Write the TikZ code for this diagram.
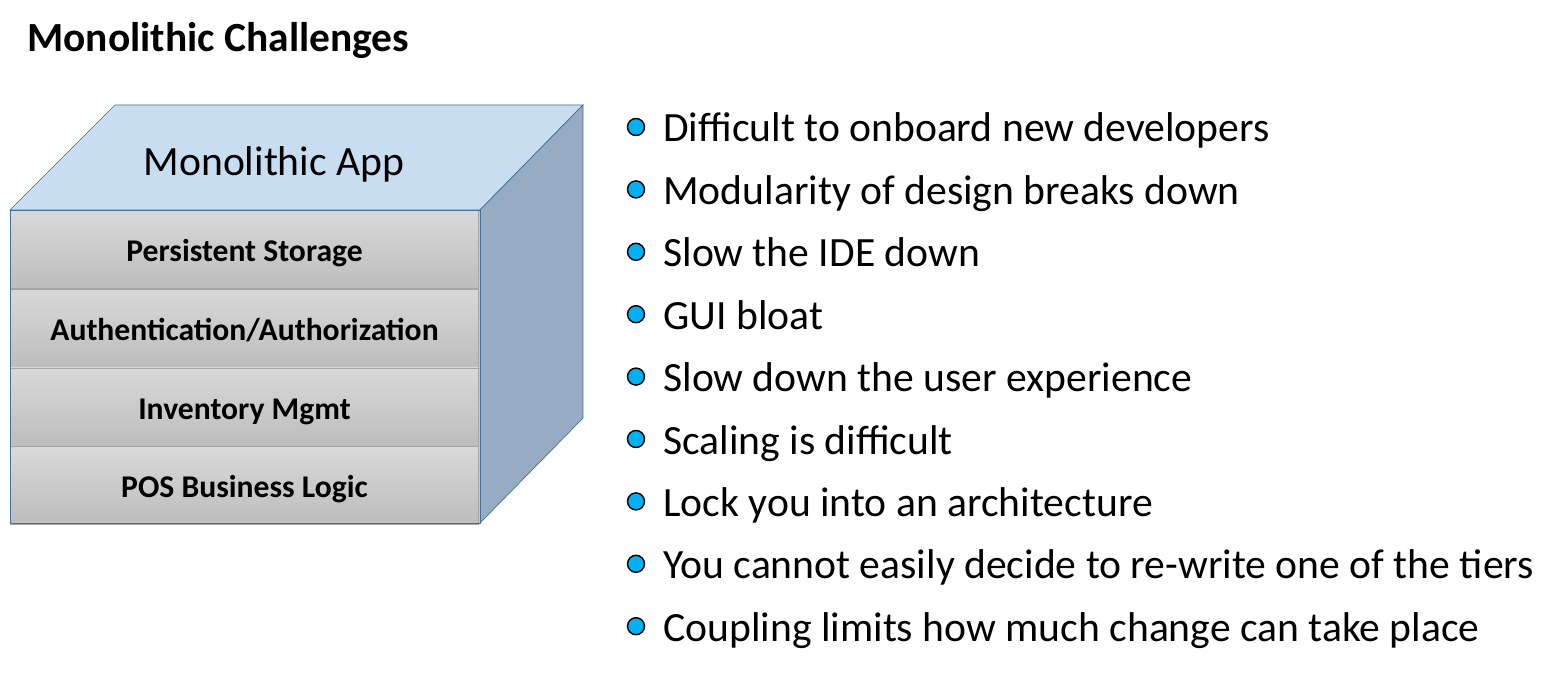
\documentclass[tikz,border=0pt]{standalone}
\usepackage{fontspec}
\setmainfont{Carlito}
\usetikzlibrary{positioning}
\definecolor{topface}{HTML}{C9DDF1}
\definecolor{sideface}{HTML}{97ACC3}
\definecolor{edgeblue}{HTML}{41719C}
\definecolor{layeredge}{HTML}{A6A6A6}
\definecolor{bulletblue}{HTML}{00B0F0}

\begin{document}
\begin{tikzpicture}[x=0.02cm, y=-0.02cm, node distance=0pt,
  layer/.style={draw=layeredge, top color=black!15, bottom color=black!26,
                minimum width=9.36cm, minimum height=1.56cm, inner sep=0pt,
                text height=0.6cm, text depth=0.11cm,
                font=\fontsize{18}{21}\selectfont\bfseries},
  item/.style={anchor=base west, inner sep=0pt, font=\fontsize{23.7}{28}\selectfont},
  dot/.style={circle, draw, thick, fill=bulletblue, minimum size=0.34cm, inner sep=0pt}]

  \useasboundingbox (0,0) rectangle (1563,679);

  \node[anchor=base west, inner sep=0pt, font=\fontsize{23.6}{28}\selectfont\bfseries]
    (title) at (27,52) {Monolithic Challenges};

  % cube faces
  \draw[edgeblue, fill=topface] (10,210) -- (115,105) -- (583,105) -- (480,210) -- cycle;
  \draw[edgeblue, fill=sideface] (480,210) -- (583,105) -- (583,418) -- (480,523) -- cycle;
  \node[font=\fontsize{23.7}{28}\selectfont] (app) at (274,164) {Monolithic App};

  \node[layer] (store) at (244.5,249.5) {Persistent Storage};
  \node[layer, below=of store] (auth) {Authentication/Authorization};
  \node[layer, below=of auth]  (inv)  {Inventory Mgmt};
  \node[layer, below=of inv]   (pos)  {POS Business Logic};
  \draw[edgeblue] (10,210) rectangle (480,523);

  % challenges
  \foreach \t [count=\i] in {Difficult to onboard new developers,
      Modularity of design breaks down, Slow the IDE down, GUI bloat,
      Slow down the user experience, Scaling is difficult,
      Lock you into an architecture,
      You cannot easily decide to re-write one of the tiers,
      Coupling limits how much change can take place} {
    \node[dot] (dot\i) at (636,{127+62.4*(\i-1)}) {};
    \node[item] (item\i) at (663,{142+62.4*(\i-1)}) {\t};
  }
\end{tikzpicture}
\end{document}
